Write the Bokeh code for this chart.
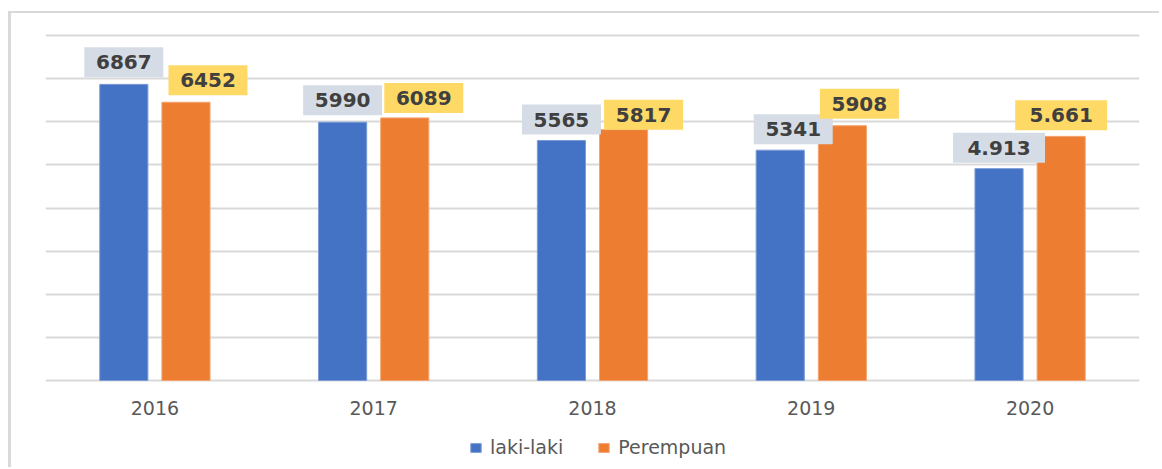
from bokeh.plotting import figure
from bokeh.models import (ColumnDataSource, Range1d, FixedTicker, Legend, LegendItem)
from bokeh.core.properties import value
from bokeh.embed import file_html
from bokeh.resources import INLINE

# ---- data ----
years = ["2016", "2017", "2018", "2019", "2020"]
laki = [6867, 5990, 5565, 5341, 4913]
perempuan = [6452, 6089, 5817, 5908, 5661]
laki_labels = ["6867", "5990", "5565", "5341", "4.913"]
perempuan_labels = ["6452", "6089", "5817", "5908", "5.661"]
y_ticks = [0, 1000, 2000, 3000, 4000, 5000, 6000, 7000, 8000]

# ---- layout / style ----
PAGE_W, PAGE_H = 1162, 469
OX, OY = 8, 11           # position of the chart box on the page
BL, BT = 3, 2            # border widths (left, top)
W, H = PAGE_W - OX - BL, PAGE_H - OY - BT
FRAME_L, FRAME_R = 45, 1139      # page x of plotting area
GRID_TOP, BASE = 35, 380         # page y of 8000-line and of 0-line
PAD_TOP = 2
LEFT = FRAME_L - OX - BL
RIGHT = PAGE_W - FRAME_R
TOP = GRID_TOP - PAD_TOP - OY - BT
frame_w = FRAME_R - FRAME_L
YMAX = y_ticks[-1]
px_x = frame_w / len(years)
px_y = (BASE - GRID_TOP) / YMAX
y_lo = -(PAGE_H - BASE) / px_y
y_hi = YMAX + PAD_TOP / px_y

BLUE, ORANGE = "#4472C4", "#ED7D31"
BOX_BLUE, BOX_YELLOW = "#D6DCE5", "#FFD966"
TXT_DARK, TXT_GRAY, GRID = "#404040", "#595959", "#D9D9D9"
OFF, BAR_W = 0.142, 0.22
BOX_H = 30
dx_blue = [0, 0, 0, 13, 0]
dx_orange = [22, 19, 20, 17, 0]
gap_blue = [7, 7, 6, 6, 6]
gap_orange = [7, 5, 0, 7, 6]


def box_w(s):
    return 79 + 13 * s.count(".")


idx = list(range(len(years)))
src = ColumnDataSource(dict(
    xb=[i - OFF for i in idx], xo=[i + OFF for i in idx],
    laki=laki, perempuan=perempuan,
    lb=laki_labels, lo=perempuan_labels,
    lbx=[i - OFF + d / px_x for i, d in zip(idx, dx_blue)],
    lox=[i + OFF + d / px_x for i, d in zip(idx, dx_orange)],
    lby=[v + (g + BOX_H / 2) / px_y for v, g in zip(laki, gap_blue)],
    loy=[v + (g + BOX_H / 2) / px_y for v, g in zip(perempuan, gap_orange)],
    lbw=[box_w(s) for s in laki_labels],
    low=[box_w(s) for s in perempuan_labels],
))

p = figure(width=W, height=H, output_backend="svg", toolbar_location=None,
           x_range=Range1d(-0.5, len(years) - 0.5), y_range=Range1d(y_lo, y_hi),
           min_border_left=LEFT, min_border_right=RIGHT,
           min_border_top=TOP, min_border_bottom=0)
p.margin = (OY, 0, 0, OX)
p.styles = {"border-left": f"{BL}px solid {GRID}", "border-top": f"{BT}px solid {GRID}"}
p.outline_line_color = None
p.background_fill_color = "white"
p.border_fill_color = "white"

p.xgrid.visible = False
p.ygrid.ticker = FixedTicker(ticks=y_ticks)
p.ygrid.grid_line_color = GRID
p.ygrid.grid_line_width = 2
p.yaxis.visible = False

p.xaxis.fixed_location = 0
p.xaxis.ticker = FixedTicker(ticks=idx)
p.xaxis.major_label_overrides = {i: y for i, y in zip(idx, years)}
p.xaxis.axis_line_color = None
p.xaxis.major_tick_line_color = None
p.xaxis.minor_tick_line_color = None
p.xaxis.major_label_text_font = "DejaVu Sans"
p.xaxis.major_label_text_font_size = "19px"
p.xaxis.major_label_text_color = TXT_GRAY
p.xaxis.major_label_standoff = 14

rb = p.vbar(x="xb", top="laki", width=BAR_W, bottom=0, source=src,
            fill_color=BLUE, line_color="#7B9BD6", line_width=1)
ro = p.vbar(x="xo", top="perempuan", width=BAR_W, bottom=0, source=src,
            fill_color=ORANGE, line_color="#F4A470", line_width=1)

p.rect(x="lbx", y="lby", width="lbw", height=BOX_H, width_units="screen",
       height_units="screen", source=src, fill_color=BOX_BLUE, line_color=None)
p.rect(x="lox", y="loy", width="low", height=BOX_H, width_units="screen",
       height_units="screen", source=src, fill_color=BOX_YELLOW, line_color=None)
for xf, yf, tf in (("lbx", "lby", "lb"), ("lox", "loy", "lo")):
    p.text(x=xf, y=yf, text=tf, source=src, text_align="center",
           text_baseline="middle", text_font=value("DejaVu Sans"),
           text_font_style="bold", text_font_size="20px", text_color=TXT_DARK)

legend = Legend(items=[LegendItem(label="laki-laki", renderers=[rb]),
                       LegendItem(label="Perempuan", renderers=[ro])],
                orientation="horizontal", location=(424, 11),
                label_text_font="DejaVu Sans", label_text_font_size="19px",
                label_text_color=TXT_GRAY, glyph_width=13, glyph_height=11,
                label_standoff=8, spacing=34, padding=0, margin=0,
                border_line_color=None, background_fill_alpha=0)
p.add_layout(legend, "center")

open("out.html", "w").write(file_html(p, INLINE))
